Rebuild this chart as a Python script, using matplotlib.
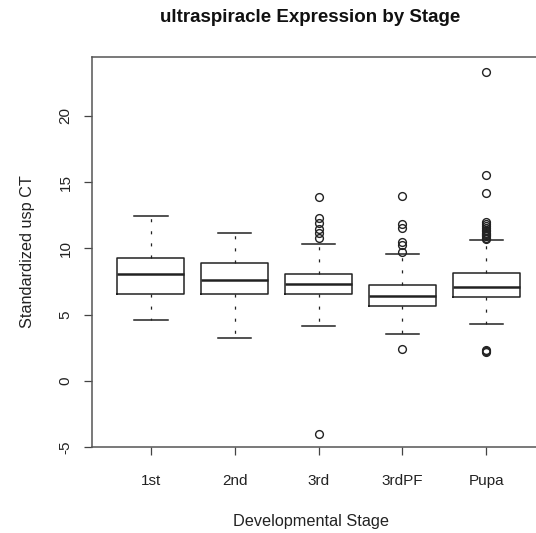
import matplotlib
matplotlib.use("Agg")
import matplotlib.pyplot as plt

plt.rcParams['font.family'] = ['Liberation Sans', 'DejaVu Sans']
plt.rcParams['lines.scale_dashes'] = False

# Summary statistics per developmental stage
stages = ['1st', '2nd', '3rd', '3rdPF', 'Pupa']
whisker_low = [4.59, 3.23, 4.16, 3.53, 4.31]
quartile_1 = [6.58, 6.58, 6.53, 5.67, 6.35]
medians = [8.09, 7.59, 7.33, 6.38, 7.06]
quartile_3 = [9.25, 8.92, 8.09, 7.24, 8.12]
whisker_high = [12.47, 11.14, 10.33, 9.60, 10.66]
outliers_1st = []
outliers_2nd = []
outliers_3rd = [13.9, 12.27, 11.9, 11.5, 11.14, 10.76, -4.02]
outliers_3rdpf = [13.96, 11.84, 11.57, 10.5, 10.26, 9.75, 2.4]
outliers_pupa = [23.35, 15.52, 14.21, 12.0, 11.85, 11.7, 11.55, 11.4, 11.3,
                 11.2, 11.1, 11.0, 10.9, 10.8, 10.7, 2.35, 2.25, 2.2]
outliers = [outliers_1st, outliers_2nd, outliers_3rd, outliers_3rdpf, outliers_pupa]

W, H = 536, 533
fig = plt.figure(figsize=(W / 100, H / 100), dpi=100)
left, right, top, bottom = 92, 545, 57.3, 447.3
ax = fig.add_axes([left / W, 1 - bottom / H, (right - left) / W, (bottom - top) / H])

stats = []
for i in range(len(stages)):
    stats.append(dict(label=stages[i], whislo=whisker_low[i], q1=quartile_1[i],
                      med=medians[i], q3=quartile_3[i], whishi=whisker_high[i],
                      fliers=outliers[i]))

ink = '#222222'
ax.bxp(stats, positions=range(1, 6), widths=0.8, showfliers=True,
       boxprops=dict(color=ink, linewidth=1.1),
       medianprops=dict(color=ink, linewidth=1.8),
       whiskerprops=dict(color=ink, linewidth=0.9, linestyle=(0, (2.2, 6.5))),
       capprops=dict(color=ink, linewidth=1.1),
       capwidths=0.4,
       flierprops=dict(marker='o', markerfacecolor='none', markeredgecolor=ink,
                       markersize=5.6, markeredgewidth=1.0))

ax.set_xlim(0.3, 5.7)
ax.set_ylim(-5.02, 24.43)
ax.set_yticks([-5, 0, 5, 10, 15, 20])
ax.set_yticklabels(['-5', '0', '5', '10', '15', '20'], rotation=90, va='center')
ax.set_xticks(range(1, 6))
ax.set_xticklabels(stages)
ax.tick_params(axis='both', direction='out', length=6, width=0.9, colors='#444444',
               labelcolor='#222222', labelsize=11)
ax.tick_params(axis='y', pad=8)
ax.tick_params(axis='x', pad=13)
for s in ax.spines.values():
    s.set_color('#555555')
    s.set_linewidth(1.1)

fig.text(310 / W, 1 - 18 / H, 'ultraspiracle Expression by Stage', ha='center', va='center',
         fontsize=13.5, fontweight='bold', color='#111111')
fig.text(311 / W, 1 - 521.5 / H, 'Developmental Stage', ha='center', va='center',
         fontsize=11.7, color='#222222')
fig.text(28 / W, 1 - 252 / H, 'Standardized usp CT', ha='center', va='center',
         rotation=90, fontsize=11.7, color='#222222')

fig.savefig('out.png', dpi=100)
